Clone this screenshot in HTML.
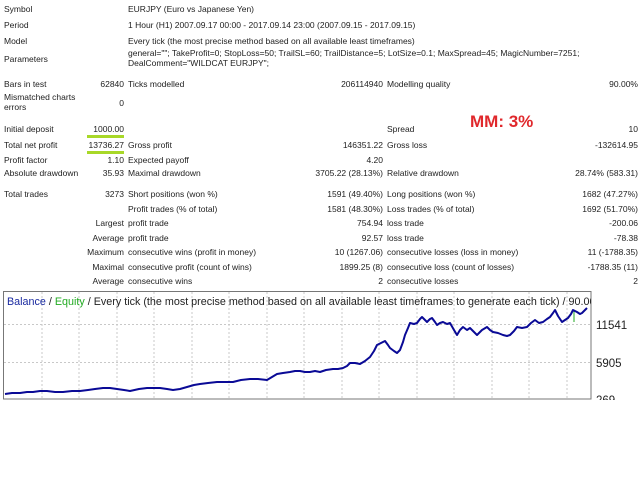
<!DOCTYPE html>
<html><head><meta charset="utf-8"><style>
html,body{margin:0;padding:0;background:#fff;width:640px;height:480px;overflow:hidden}
body{position:relative;font-family:"Liberation Sans","DejaVu Sans",sans-serif;font-size:8.5px;color:#222}
.t{position:absolute;white-space:nowrap;line-height:10px}
.r{text-align:right}
</style></head><body>
<div class="t" style="left:4px;top:4px">Symbol</div><div class="t" style="left:128px;top:4px">EURJPY (Euro vs Japanese Yen)</div>
<div class="t" style="left:4px;top:20px">Period</div><div class="t" style="left:128px;top:20px">1 Hour (H1) 2007.09.17 00:00 - 2017.09.14 23:00 (2007.09.15 - 2017.09.15)</div>
<div class="t" style="left:4px;top:36px">Model</div><div class="t" style="left:128px;top:36px">Every tick (the most precise method based on all available least timeframes)</div>
<div class="t" style="left:4px;top:54px">Parameters</div><div class="t" style="left:128px;top:48px">general=""; TakeProfit=0; StopLoss=50; TrailSL=60; TrailDistance=5; LotSize=0.1; MaxSpread=45; MagicNumber=7251;<br>DealComment="WILDCAT EURJPY";</div>

<div class="t" style="left:4px;top:79px">Bars in test</div><div class="t r" style="right:516px;top:79px">62840</div><div class="t" style="left:128px;top:79px">Ticks modelled</div><div class="t r" style="right:257px;top:79px">206114940</div><div class="t" style="left:387px;top:79px">Modelling quality</div><div class="t r" style="right:2px;top:79px">90.00%</div>
<div class="t" style="left:4px;top:92px">Mismatched charts<br>errors</div><div class="t r" style="right:516px;top:98px">0</div>

<div class="t" style="left:4px;top:124px">Initial deposit</div><div class="t r" style="right:516px;top:124px">1000.00</div><div class="t" style="left:387px;top:124px">Spread</div><div class="t r" style="right:2px;top:124px">10</div>
<div style="position:absolute;left:87px;top:135px;width:37px;height:3px;background:#a8d828"></div>
<div class="t" style="left:4px;top:140px">Total net profit</div><div class="t r" style="right:516px;top:140px">13736.27</div><div class="t" style="left:128px;top:140px">Gross profit</div><div class="t r" style="right:257px;top:140px">146351.22</div><div class="t" style="left:387px;top:140px">Gross loss</div><div class="t r" style="right:2px;top:140px">-132614.95</div>
<div style="position:absolute;left:87px;top:151px;width:37px;height:3px;background:#a8d828"></div>
<div class="t" style="left:4px;top:155px">Profit factor</div><div class="t r" style="right:516px;top:155px">1.10</div><div class="t" style="left:128px;top:155px">Expected payoff</div><div class="t r" style="right:257px;top:155px">4.20</div>
<div class="t" style="left:4px;top:168px">Absolute drawdown</div><div class="t r" style="right:516px;top:168px">35.93</div><div class="t" style="left:128px;top:168px">Maximal drawdown</div><div class="t r" style="right:257px;top:168px">3705.22 (28.13%)</div><div class="t" style="left:387px;top:168px">Relative drawdown</div><div class="t r" style="right:2px;top:168px">28.74% (583.31)</div>

<div class="t" style="left:470px;top:112px;font-size:17px;line-height:20px;font-weight:bold;color:#e0282c">MM: 3%</div>

<div class="t" style="left:4px;top:189px">Total trades</div><div class="t r" style="right:516px;top:189px">3273</div><div class="t" style="left:128px;top:189px">Short positions (won %)</div><div class="t r" style="right:257px;top:189px">1591 (49.40%)</div><div class="t" style="left:387px;top:189px">Long positions (won %)</div><div class="t r" style="right:2px;top:189px">1682 (47.27%)</div>
<div class="t" style="left:128px;top:204px">Profit trades (% of total)</div><div class="t r" style="right:257px;top:204px">1581 (48.30%)</div><div class="t" style="left:387px;top:204px">Loss trades (% of total)</div><div class="t r" style="right:2px;top:204px">1692 (51.70%)</div>
<div class="t r" style="right:516px;top:218px">Largest</div><div class="t" style="left:128px;top:218px">profit trade</div><div class="t r" style="right:257px;top:218px">754.94</div><div class="t" style="left:387px;top:218px">loss trade</div><div class="t r" style="right:2px;top:218px">-200.06</div>
<div class="t r" style="right:516px;top:233px">Average</div><div class="t" style="left:128px;top:233px">profit trade</div><div class="t r" style="right:257px;top:233px">92.57</div><div class="t" style="left:387px;top:233px">loss trade</div><div class="t r" style="right:2px;top:233px">-78.38</div>
<div class="t r" style="right:516px;top:247px">Maximum</div><div class="t" style="left:128px;top:247px">consecutive wins (profit in money)</div><div class="t r" style="right:257px;top:247px">10 (1267.06)</div><div class="t" style="left:387px;top:247px">consecutive losses (loss in money)</div><div class="t r" style="right:2px;top:247px">11 (-1788.35)</div>
<div class="t r" style="right:516px;top:262px">Maximal</div><div class="t" style="left:128px;top:262px">consecutive profit (count of wins)</div><div class="t r" style="right:257px;top:262px">1899.25 (8)</div><div class="t" style="left:387px;top:262px">consecutive loss (count of losses)</div><div class="t r" style="right:2px;top:262px">-1788.35 (11)</div>
<div class="t r" style="right:516px;top:276px">Average</div><div class="t" style="left:128px;top:276px">consecutive wins</div><div class="t r" style="right:257px;top:276px">2</div><div class="t" style="left:387px;top:276px">consecutive losses</div><div class="t r" style="right:2px;top:276px">2</div>

<svg style="position:absolute;left:0;top:0" width="640" height="480">
<defs><clipPath id="c"><rect x="4" y="292" width="587" height="107"/></clipPath></defs>
<g stroke="#c8c8c8" stroke-dasharray="2,2" stroke-width="1">
<line x1="4" y1="324.5" x2="591" y2="324.5"/><line x1="4" y1="362.5" x2="591" y2="362.5"/>
<line x1="42" y1="292" x2="42" y2="399"/><line x1="79" y1="292" x2="79" y2="399"/><line x1="117" y1="292" x2="117" y2="399"/><line x1="154" y1="292" x2="154" y2="399"/><line x1="192" y1="292" x2="192" y2="399"/><line x1="229" y1="292" x2="229" y2="399"/><line x1="267" y1="292" x2="267" y2="399"/><line x1="304" y1="292" x2="304" y2="399"/><line x1="342" y1="292" x2="342" y2="399"/><line x1="379" y1="292" x2="379" y2="399"/><line x1="417" y1="292" x2="417" y2="399"/><line x1="454" y1="292" x2="454" y2="399"/><line x1="492" y1="292" x2="492" y2="399"/><line x1="529" y1="292" x2="529" y2="399"/><line x1="567" y1="292" x2="567" y2="399"/>
</g>
<rect x="3.5" y="291.5" width="587.5" height="107.5" fill="none" stroke="#777" stroke-width="1"/>
<line x1="574" y1="310" x2="574" y2="322" stroke="#22aa22" stroke-width="1"/>
<polyline fill="none" stroke="#0a0a96" stroke-width="2" stroke-linejoin="round" points="5,394 12,393 20,393 27,392 33,392 40,391 47,391 55,392 63,392 72,391 80,391 88,390 95,389 103,388 110,388 117,389 124,390 130,391 139,389 147,388 153,388 160,388 167,389 173,390 180,389 187,387 194,385 200,384 208,383 217,382 225,382 233,382 241,380 250,379 258,379 267,380 272,377 277,374 283,373 290,372 295,371 300,371 305,372 310,372 315,371 320,372 326,370 333,369 338,369 343,368 347,366 350,363 355,363 360,364 365,361 370,357 374,351 377,345 381,343 385,341 388,345 390,348 394,351 397,353 400,350 403,342 405,335 408,328 410,323 414,324 417,323 420,319 422,317 425,320 427,322 430,319 432,318 435,322 437,325 440,323 443,322 447,324 450,323 454,330 457,335 460,330 463,327 467,330 470,328 474,332 477,335 482,330 487,327 490,330 493,332 498,333 503,335 507,336 510,335 514,331 517,327 522,328 527,327 531,323 535,320 539,323 543,322 547,319 550,317 553,313 555,310 558,316 562,322 565,320 568,318 571,314 573,310 577,312 580,314 582,313 585,310 587,308"/>
<text x="7" y="305" clip-path="url(#c)" font-family="Liberation Sans, sans-serif" font-size="11" fill="#222" textLength="598" lengthAdjust="spacingAndGlyphs"><tspan fill="#1a2aa0">Balance</tspan> / <tspan fill="#22aa22">Equity</tspan> / Every tick (the most precise method based on all available least timeframes to generate each tick) / 90.00%</text>
<g font-family="Liberation Sans, sans-serif" font-size="11.5" fill="#222">
<text x="596" y="329">11541</text><text x="596" y="367">5905</text><text x="596" y="404">269</text>
</g>
<rect x="0" y="400" width="640" height="80" fill="#fff"/>
</svg>
</body></html>
